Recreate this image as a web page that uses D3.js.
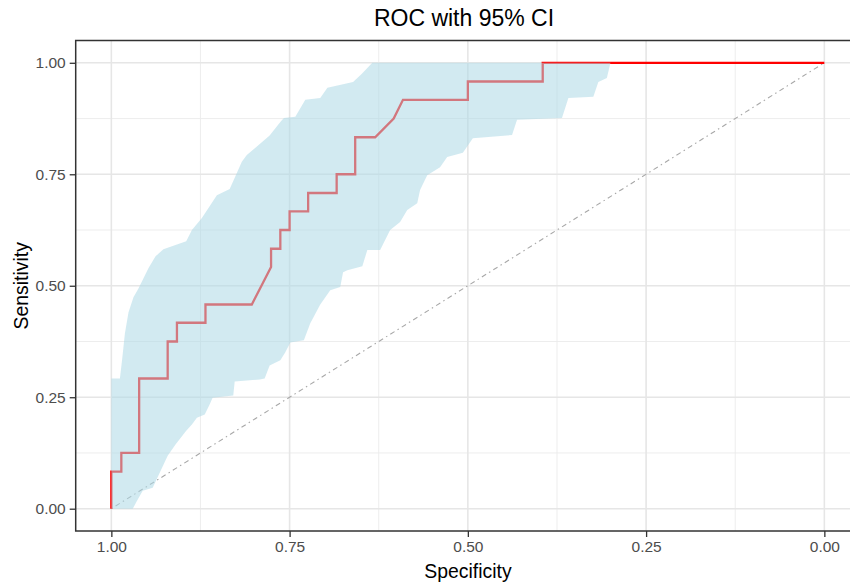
<!DOCTYPE html>
<html>
<head>
<meta charset="utf-8">
<script src="https://cdn.jsdelivr.net/npm/d3@7"></script>
<style>
  html, body { margin: 0; padding: 0; background: #fff; }
  svg { display: block; font-family: "Liberation Sans", Arial, sans-serif; }
</style>
</head>
<body>
<svg id="chart" width="850" height="584"></svg>
<script>
// Empirical ROC curve (specificity, sensitivity)
const rocSpec = [1.000, 1.000, 0.986, 0.986, 0.961, 0.961, 0.921, 0.921, 0.908, 0.908,
                 0.868, 0.868, 0.803, 0.776, 0.776, 0.763, 0.763, 0.750, 0.750, 0.724,
                 0.724, 0.684, 0.684, 0.658, 0.658, 0.630, 0.604, 0.591, 0.500, 0.500,
                 0.395, 0.395, 0.000];
const rocSens = [0.000, 0.083, 0.083, 0.125, 0.125, 0.292, 0.292, 0.375, 0.375, 0.417,
                 0.417, 0.458, 0.458, 0.542, 0.583, 0.583, 0.625, 0.625, 0.667, 0.667,
                 0.708, 0.708, 0.750, 0.750, 0.833, 0.833, 0.875, 0.917, 0.917, 0.958,
                 0.958, 1.000, 1.000];

// Bootstrap 95% CI of sensitivity: upper bound
const ciUpperSpec = [1.000, 1.000, 0.988, 0.985, 0.981, 0.976, 0.969, 0.962, 0.948, 0.938,
                     0.927, 0.911, 0.895, 0.887, 0.873, 0.852, 0.834, 0.817, 0.810, 0.789,
                     0.778, 0.763, 0.758, 0.742, 0.728, 0.707, 0.697, 0.661, 0.649, 0.634,
                     0.300, 0.000];
const ciUpperSens = [0.000, 0.292, 0.292, 0.333, 0.393, 0.440, 0.474, 0.494, 0.539, 0.566,
                     0.582, 0.591, 0.600, 0.625, 0.652, 0.703, 0.717, 0.778, 0.793, 0.822,
                     0.837, 0.867, 0.876, 0.879, 0.917, 0.921, 0.944, 0.957, 0.975, 1.000,
                     1.000, 1.000];

// Bootstrap 95% CI of sensitivity: lower bound
const ciLowerSpec = [1.000, 0.970, 0.964, 0.956, 0.942, 0.932, 0.921, 0.910, 0.895, 0.887,
                     0.880, 0.869, 0.862, 0.858, 0.829, 0.827, 0.792, 0.785, 0.778, 0.763,
                     0.756, 0.749, 0.730, 0.721, 0.707, 0.693, 0.679, 0.675, 0.669, 0.648,
                     0.641, 0.623, 0.609, 0.595, 0.585, 0.571, 0.567, 0.557, 0.539, 0.529,
                     0.507, 0.493, 0.438, 0.431, 0.368, 0.359, 0.324, 0.317, 0.305, 0.300,
                     0.000];
const ciLowerSens = [0.000, 0.000, 0.018, 0.040, 0.047, 0.081, 0.119, 0.144, 0.175, 0.189,
                     0.204, 0.211, 0.234, 0.249, 0.254, 0.285, 0.290, 0.292, 0.321, 0.333,
                     0.351, 0.373, 0.378, 0.416, 0.458, 0.490, 0.497, 0.530, 0.535, 0.544,
                     0.580, 0.580, 0.625, 0.643, 0.670, 0.685, 0.715, 0.748, 0.766, 0.789,
                     0.798, 0.831, 0.838, 0.872, 0.876, 0.921, 0.924, 0.957, 0.966, 1.000,
                     1.000];

const tickValues = [0, 0.25, 0.5, 0.75, 1];
const minorValues = [0.125, 0.375, 0.625, 0.875];
const titleText = "ROC with 95% CI";
const xTitle = "Specificity";
const yTitle = "Sensitivity";

// Panel geometry
const panel = { left: 75.7, right: 860, top: 40.5, bottom: 531 };

const svg = d3.select("#chart");

const x = d3.scaleLinear().domain([1.05, -0.05]).range([panel.left, panel.right]);
const y = d3.scaleLinear().domain([-0.05, 1.05]).range([panel.bottom, panel.top]);

const clipId = "panel-clip";
svg.append("defs").append("clipPath").attr("id", clipId)
  .append("rect")
  .attr("x", panel.left).attr("y", panel.top)
  .attr("width", panel.right - panel.left).attr("height", panel.bottom - panel.top);

const plot = svg.append("g").attr("clip-path", `url(#${clipId})`);

// Grid lines (minor then major)
plot.append("g").selectAll("line.vminor").data(minorValues).join("line")
  .attr("x1", d => x(d)).attr("x2", d => x(d))
  .attr("y1", panel.top).attr("y2", panel.bottom)
  .attr("stroke", "#EBEBEB").attr("stroke-width", 0.9);
plot.append("g").selectAll("line.hminor").data(minorValues).join("line")
  .attr("y1", d => y(d)).attr("y2", d => y(d))
  .attr("x1", panel.left).attr("x2", panel.right)
  .attr("stroke", "#EBEBEB").attr("stroke-width", 0.9);
plot.append("g").selectAll("line.vmajor").data(tickValues).join("line")
  .attr("x1", d => x(d)).attr("x2", d => x(d))
  .attr("y1", panel.top).attr("y2", panel.bottom)
  .attr("stroke", "#E6E6E6").attr("stroke-width", 1.6);
plot.append("g").selectAll("line.hmajor").data(tickValues).join("line")
  .attr("y1", d => y(d)).attr("y2", d => y(d))
  .attr("x1", panel.left).attr("x2", panel.right)
  .attr("stroke", "#E6E6E6").attr("stroke-width", 1.6);

// Chance diagonal
plot.append("line")
  .attr("x1", x(1)).attr("y1", y(0))
  .attr("x2", x(0)).attr("y2", y(1))
  .attr("stroke", "#A8A8A8").attr("stroke-width", 1.1)
  .attr("stroke-dasharray", "1.5,3.5,5,3.5");

// ROC curve
const line = d3.line().x(d => x(d[0])).y(d => y(d[1]));
const rocPts = rocSpec.map((s, i) => [s, rocSens[i]]);
plot.append("path")
  .attr("d", line(rocPts))
  .attr("fill", "none")
  .attr("stroke", "#FF0000")
  .attr("stroke-width", 2.3)
  .attr("stroke-linejoin", "miter");

// CI ribbon: upper bound forward, lower bound back
const upperPts = ciUpperSpec.map((s, i) => [s, ciUpperSens[i]]);
const lowerPts = ciLowerSpec.map((s, i) => [s, ciLowerSens[i]]).reverse();
plot.append("path")
  .attr("d", line(upperPts.concat(lowerPts)) + "Z")
  .attr("fill", "#ADD8E6")
  .attr("fill-opacity", 0.55)
  .attr("stroke", "none");

// Axes
const fmt = d3.format(".2f");
const xAxis = svg.append("g")
  .attr("transform", `translate(0,${panel.bottom})`)
  .call(d3.axisBottom(x).tickValues(tickValues).tickFormat(fmt).tickSize(6).tickPadding(4));
const yAxis = svg.append("g")
  .attr("transform", `translate(${panel.left},0)`)
  .call(d3.axisLeft(y).tickValues(tickValues).tickFormat(fmt).tickSize(6).tickPadding(4));

[xAxis, yAxis].forEach(g => {
  g.select(".domain").remove();
  g.selectAll(".tick line").attr("stroke", "#333333").attr("stroke-width", 1.3);
  g.selectAll(".tick text")
    .attr("fill", "#4D4D4D")
    .style("font-size", "15.5px")
    .style("font-family", "'Liberation Sans', Arial, sans-serif");
});

// Panel border
svg.append("rect")
  .attr("x", panel.left).attr("y", panel.top)
  .attr("width", panel.right - panel.left).attr("height", panel.bottom - panel.top)
  .attr("fill", "none").attr("stroke", "#333333").attr("stroke-width", 1.5);

// Titles
svg.append("text")
  .attr("x", 464).attr("y", 26)
  .attr("text-anchor", "middle")
  .attr("fill", "#000")
  .style("font-size", "23px")
  .text(titleText);

svg.append("text")
  .attr("x", 468).attr("y", 578)
  .attr("text-anchor", "middle")
  .attr("fill", "#000")
  .style("font-size", "19.4px")
  .text(xTitle);

svg.append("text")
  .attr("transform", `translate(28,${(panel.top + panel.bottom) / 2}) rotate(-90)`)
  .attr("text-anchor", "middle")
  .attr("fill", "#000")
  .style("font-size", "19.4px")
  .text(yTitle);
</script>
</body>
</html>
